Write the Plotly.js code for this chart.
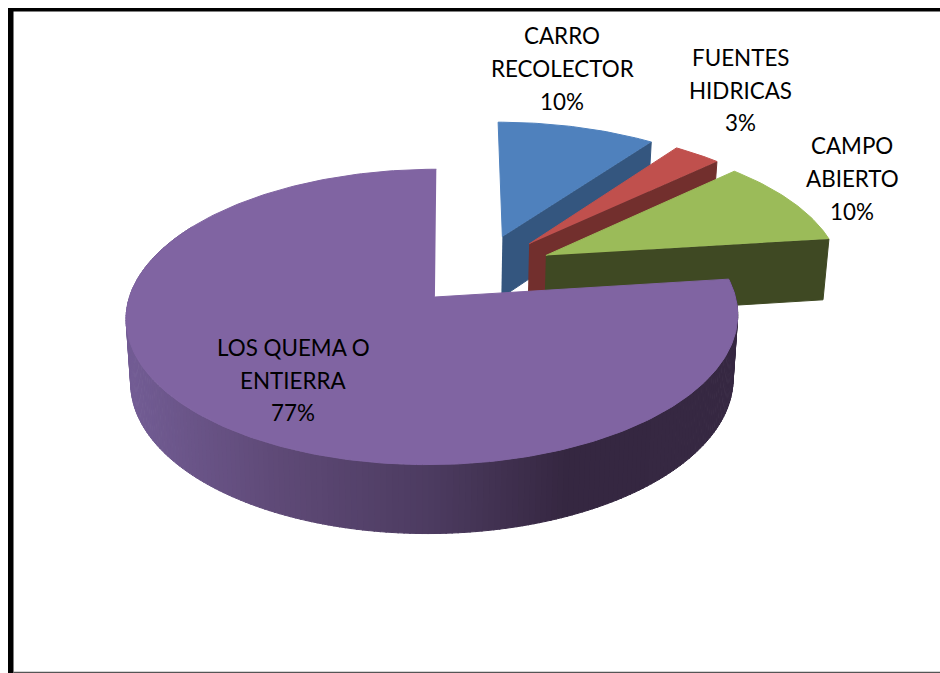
<!DOCTYPE html>
<html>
<head>
<meta charset="utf-8">
<script src="https://cdn.plot.ly/plotly-3.0.1.min.js"></script>
<style>html,body{margin:0;padding:0;background:#fff}#chart{width:940px;height:673px}</style>
</head>
<body>
<div id="chart"></div>
<script>
// ---- data ----
const categories = ["CARRO<br>RECOLECTOR", "FUENTES<br>HIDRICAS", "CAMPO<br>ABIERTO", "LOS QUEMA O<br>ENTIERRA"];
const values = [10, 3, 10, 77];

// ---- styles ----
const topColors  = ["#4f81bd", "#c0504d", "#9bbb59", "#8064a2"];
const wallColors = ["#34567f", "#722f2d", "#3f4923", "#6f5790"];
const frontShade = [[0, [114, 92, 148]], [0.25, [94, 73, 118]], [0.5, [76, 59, 96]], [0.72, [53, 39, 65]], [1, [54, 40, 66]]];

// ---- projection of the tilted pie (pixel-scaled hidden axes) ----
const view = {x0: 432.5, y0: 297, A: 303, B: 145, k: 0.135, shear: 0.03, depth: 63, depthPow: 0.62, shrink: 0.985};
const explodeU = [0.238, 0.33, 0.385, 0];
const explodeV = [-0.44, -0.385, -0.298, 0];
const hubNudgeU = [0, 0, 0, 0.008];
const labelX = [562, 740, 852, 293];
const labelY = [68.5, 90, 178.5, 380];
const lineGap = 32.7;

function project(u, v, low) {
  const w = 1 - view.k * v;
  const dy = view.B * v / w;
  let x = view.A * u / w - view.shear * dy;
  let y = view.y0 + dy;
  if (low) { x *= view.shrink; y += view.depth / Math.pow(w, view.depthPow); }
  return [view.x0 + x, y];
}
function rimPoint(i, deg, low) {
  const t = deg * Math.PI / 180;
  return project(explodeU[i] + Math.sin(t), explodeV[i] - Math.cos(t), low);
}
function hubPoint(i, low) { return project(explodeU[i] + hubNudgeU[i], explodeV[i], low); }

function poly(points, color) {
  return {
    type: "scatter", mode: "lines", hoverinfo: "skip", showlegend: false,
    x: points.map(p => p[0]), y: points.map(p => p[1]),
    fill: "toself", fillcolor: color, line: {color: color, width: 1}
  };
}
function shade(t) {
  for (let s = 1; s < frontShade.length; s++) {
    if (t <= frontShade[s][0]) {
      const a = frontShade[s - 1], b = frontShade[s], f = (t - a[0]) / (b[0] - a[0]);
      return "rgb(" + a[1].map((c, n) => Math.round(c + (b[1][n] - c) * f)).join(",") + ")";
    }
  }
  return "rgb(54,40,66)";
}

const total = values.reduce((a, b) => a + b, 0);
let cursor = 0;
const traces = [];
values.forEach((val, i) => {
  const start = cursor, end = cursor + val / total * 360;
  cursor = end;
  if (i === 3) {
    const step = 1;
    const xL = rimPoint(3, 270)[0], xR = rimPoint(3, 90)[0];
    for (let a = start; a < 300; a += step) {
      const b = a + step + 0.2;
      const mid = rimPoint(3, a + step / 2)[0];
      traces.push(poly([rimPoint(3, a), rimPoint(3, b), rimPoint(3, b, true), rimPoint(3, a, true)],
        shade(Math.min(1, Math.max(0, (mid - xL) / (xR - xL))))));
    }
  } else {
    traces.push(poly([hubPoint(i), rimPoint(i, end), rimPoint(i, end, true), hubPoint(i, true)], wallColors[i]));
  }
  const face = [hubPoint(i)];
  for (let a = start; a < end; a += 1) face.push(rimPoint(i, a));
  face.push(rimPoint(i, end));
  traces.push(poly(face, topColors[i]));
});

const annotations = [];
categories.forEach((c, i) => {
  const lines = c.split("<br>").concat([values[i] + "%"]);
  lines.forEach((txt, n) => annotations.push({
    x: labelX[i], y: labelY[i] + (n - (lines.length - 1) / 2) * lineGap,
    xref: "x", yref: "y", showarrow: false, text: txt,
    xanchor: "center", yanchor: "middle",
    font: {family: "Lato, 'Open Sans', sans-serif", size: 22.4, color: "#000"}
  }));
});

const frameShapes = [
  {type: "rect", xref: "x", yref: "y", x0: 8, x1: 940, y0: 8, y1: 11.5, fillcolor: "#000", line: {width: 0}},
  {type: "rect", xref: "x", yref: "y", x0: 8, x1: 13.5, y0: 8, y1: 673, fillcolor: "#000", line: {width: 0}},
  {type: "rect", xref: "x", yref: "y", x0: 13.5, x1: 940, y0: 671.8, y1: 673, fillcolor: "#555", line: {width: 0}}
];

Plotly.newPlot("chart", traces, {
  width: 940, height: 673,
  margin: {l: 0, r: 0, t: 0, b: 0},
  paper_bgcolor: "#fff", plot_bgcolor: "#fff",
  showlegend: false,
  xaxis: {range: [0, 940], visible: false, fixedrange: true},
  yaxis: {range: [673, 0], visible: false, fixedrange: true},
  annotations: annotations,
  shapes: frameShapes
}, {displayModeBar: false, staticPlot: true});
</script>
</body>
</html>
